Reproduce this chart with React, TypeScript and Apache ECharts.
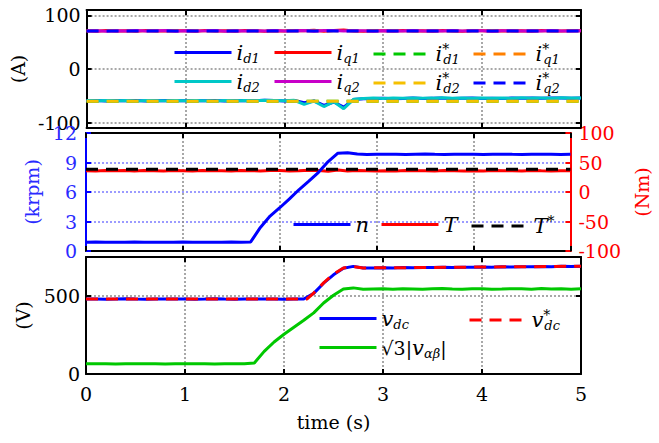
import React, { useEffect, useRef } from 'react';
import * as echarts from 'echarts';

const FONT = "'DejaVu Serif', 'Liberation Serif', serif";

// time axis (s)
const time = [0.0, 0.1, 0.2, 0.3, 0.4, 0.5, 0.6, 0.7, 0.8, 0.9,
  1.0, 1.1, 1.2, 1.3, 1.4, 1.5, 1.6, 1.7, 1.8, 1.9,
  2.0, 2.1, 2.2, 2.3, 2.4, 2.5, 2.6, 2.7, 2.8, 2.9,
  3.0, 3.1, 3.2, 3.3, 3.4, 3.5, 3.6, 3.7, 3.8, 3.9,
  4.0, 4.1, 4.2, 4.3, 4.4, 4.5, 4.6, 4.7, 4.8, 4.9, 5.0];
const refTime = [0, 5];

// top panel: currents (A)
const id1 = [-59.2, -58.6, -59.5, -58.9, -59.3, -58.7, -59.6, -59.0, -58.8, -59.4,
  -59.1, -58.5, -59.3, -58.9, -59.6, -59.0, -58.7, -59.2, -58.4, -58.9,
  -59.5, -58.6, -63.0, -59.5, -68.0, -61.5, -71.0, -57.0, -55.5, -55.0,
  -54.6, -55.3, -54.8, -54.2, -55.1, -54.7, -54.3, -55.0, -54.5, -54.1,
  -54.8, -54.4, -55.0, -54.2, -54.6, -54.0, -54.7, -54.3, -54.1, -54.5, -54.2];
const id2 = [-58.8, -59.4, -58.7, -59.2, -58.6, -59.5, -58.9, -59.3, -59.0, -58.5,
  -59.4, -58.8, -59.1, -59.6, -58.7, -59.2, -58.9, -59.4, -58.2, -58.6,
  -59.0, -58.3, -66.0, -60.0, -70.0, -61.0, -74.0, -56.5, -54.8, -54.2,
  -54.9, -54.1, -54.6, -53.9, -54.7, -54.3, -53.8, -54.5, -54.0, -54.6,
  -53.9, -54.4, -54.1, -54.7, -53.8, -54.3, -54.0, -54.5, -53.7, -54.2, -53.9];
const iq1 = [71.3, 70.6, 71.8, 70.9, 71.4, 70.5, 71.7, 71.0, 70.7, 71.5,
  71.2, 70.4, 71.6, 70.8, 71.3, 70.6, 71.9, 71.1, 70.5, 71.4,
  70.9, 71.7, 71.2, 72.3, 70.4, 71.8, 72.5, 71.0, 70.6, 71.5,
  71.1, 70.7, 71.6, 70.9, 71.3, 70.5, 71.8, 71.0, 70.6, 71.4,
  71.2, 70.8, 71.5, 70.9, 71.3, 70.6, 71.7, 71.0, 70.8, 71.4, 71.1];
const iq2 = [70.8, 71.5, 70.6, 71.3, 70.9, 71.7, 70.7, 71.2, 71.6, 70.5,
  71.4, 70.9, 71.1, 71.8, 70.6, 71.3, 70.8, 71.5, 71.0, 71.7,
  70.7, 71.2, 71.9, 70.5, 71.6, 72.0, 70.8, 71.4, 71.1, 70.6,
  71.5, 71.0, 70.8, 71.6, 70.7, 71.3, 71.0, 71.7, 70.9, 71.2,
  71.4, 70.6, 71.1, 71.5, 70.8, 71.3, 70.7, 71.6, 71.0, 70.9, 71.3];
const id1Ref = [-60, -60];
const iq1Ref = [71.5, 71.5];
const id2Ref = [-60, -60];
const iq2Ref = [71, 71];

// middle panel: speed (krpm) and torque (Nm)
const speed = [0.90, 0.91, 0.90, 0.89, 0.90, 0.91, 0.90, 0.90, 0.89, 0.90,
  0.91, 0.90, 0.90, 0.89, 0.90, 0.91, 0.90, 0.92, 2.40, 3.55,
  4.40, 5.30, 6.25, 7.10, 8.00, 9.10, 9.95, 10.00, 9.86, 9.82,
  9.84, 9.83, 9.85, 9.82, 9.84, 9.86, 9.83, 9.82, 9.85, 9.84,
  9.83, 9.82, 9.84, 9.85, 9.83, 9.82, 9.84, 9.83, 9.85, 9.82, 9.84];
const torque = [36.2, 35.6, 36.5, 35.9, 36.3, 35.7, 36.4, 36.0, 35.5, 36.3,
  36.1, 35.8, 36.6, 35.9, 36.2, 35.6, 36.4, 36.0, 35.7, 36.3,
  36.5, 35.8, 36.1, 37.0, 36.4, 35.2, 37.3, 35.4, 36.3, 36.0,
  35.6, 36.2, 35.8, 36.4, 35.9, 36.1, 35.7, 36.3, 36.0, 35.8,
  36.2, 35.6, 36.4, 35.9, 36.1, 35.7, 36.3, 36.0, 35.8, 36.2, 36.0];
const torqueRef = [38.5, 38.5];

// bottom panel: voltages (V)
const vdc = [480, 481, 479, 480, 482, 480, 479, 481, 480, 480,
  481, 479, 480, 482, 480, 479, 481, 480, 480, 481,
  479, 480, 481, 517, 582, 636, 678, 690, 679, 680,
  681, 680, 682, 681, 683, 682, 684, 683, 685, 684,
  686, 685, 687, 686, 688, 687, 689, 688, 690, 689, 691];
const vdcRefTime = [0, 2.23, 2.3, 2.4, 2.5, 2.6, 2.7, 2.8, 3.5, 4.0, 4.5, 5.0];
const vdcRef = [480, 480, 519, 584, 640, 680, 689, 680, 683, 686, 688, 691];
const vab = [65, 66, 65, 64, 65, 66, 65, 65, 64, 65,
  66, 65, 65, 64, 65, 66, 65, 70, 145, 205,
  255, 300, 345, 392, 455, 505, 545, 552, 543, 545,
  546, 544, 547, 545, 543, 546, 548, 545, 544, 547,
  546, 544, 545, 547, 546, 544, 548, 545, 546, 544, 547];

const yTopTicks = [-100, 0, 100];
const yBotTicks = [0, 500];

const pairs = (xs: number[], ys: number[]) => ys.map((y, i) => [xs[i], y]);

const GRAY_DOT = { color: '#8c8c8c', width: 1.5, type: [2, 2] as number[] };
const BLUE_DOT = { color: '#7b7bff', width: 1.5, type: [2, 2] as number[] };

const labelStyle = (color: string, margin: number) => ({
  show: true, color, fontFamily: FONT, fontSize: 19, margin,
});

const grids = [
  { left: 86, width: 495, top: 10, height: 118 },
  { left: 86, width: 495, top: 133, height: 118 },
  { left: 86, width: 495, top: 257, height: 117 },
];

function xAxes(gridIndex: number, showLabels: boolean) {
  const base = {
    type: 'value', gridIndex, min: 0, max: 5, interval: 1,
    axisLine: { show: true, onZero: false, lineStyle: { color: '#000', width: 2 } },
    axisTick: { show: true, inside: true, length: 5, lineStyle: { color: '#000', width: 2 } },
  };
  return [
    {
      ...base, position: 'bottom',
      axisLabel: showLabels ? labelStyle('#000', 10) : { show: false },
      splitLine: { show: true, lineStyle: GRAY_DOT },
      ...(showLabels ? {
        name: 'time (s)', nameLocation: 'middle', nameGap: 38,
        nameTextStyle: { fontFamily: FONT, fontSize: 19, color: '#000' },
      } : {}),
    },
    { ...base, position: 'top', axisLabel: { show: false }, splitLine: { show: false } },
  ];
}

const rich = {
  m: { fontFamily: FONT, fontStyle: 'italic', fontSize: 21, lineHeight: 24, color: '#000' },
  r: { fontFamily: FONT, fontSize: 19, lineHeight: 24, color: '#000' },
  sub: { fontFamily: FONT, fontStyle: 'italic', fontSize: 13, lineHeight: 10, verticalAlign: 'bottom', color: '#000' },
  sup: { fontFamily: FONT, fontSize: 14, lineHeight: 16, verticalAlign: 'top', width: 1, color: '#000' },
};

const labels: Record<string, string> = {
  id1: '{m|i}{sub|d1}',
  iq1: '{m|i}{sub|q1}',
  id1r: '{m|i}{sup|*}{sub|d1}',
  iq1r: '{m|i}{sup|*}{sub|q1}',
  id2: '{m|i}{sub|d2}',
  iq2: '{m|i}{sub|q2}',
  id2r: '{m|i}{sup|*}{sub|d2}',
  iq2r: '{m|i}{sup|*}{sub|q2}',
  n: '{m|n}',
  T: '{m|T}',
  Tr: '{m|T}{sup|*}',
  vdc: '{m|v}{sub|dc}',
  vdcr: '{m|v}{sup|*}{sub|dc}',
  vab: '{r|√3|}{m|v}{sub|αβ}{r||}',
};

const legendAt = (name: string, left: number, iconY: number, dashed: boolean) => ({
  data: [name], left, top: iconY - 12, padding: 0, itemGap: 0,
  itemWidth: 57, itemHeight: 14, selectedMode: false,
  formatter: (nm: string) => labels[nm],
  itemStyle: { opacity: 0, borderWidth: 0 },
  lineStyle: { width: 3, type: dashed ? [12, 8] : 'solid' },
  textStyle: { rich },
});

const line = (name: string, xs: number[], ys: number[], color: string, axis: number, yAxis: number, dashed = false, width = 3) => ({
  name, type: 'line', xAxisIndex: axis, yAxisIndex: yAxis,
  data: pairs(xs, ys), symbol: 'none', showSymbol: false,
  lineStyle: { color, width, type: dashed ? [12, 8] : 'solid' },
  itemStyle: { color },
});

export default function App() {
  const ref = useRef<HTMLDivElement>(null);
  useEffect(() => {
    const chart = echarts.init(ref.current!, null, { renderer: 'svg' });
    const option: any = {
      animation: false,
      backgroundColor: '#fff',
      textStyle: { fontFamily: FONT },
      grid: grids,
      xAxis: [...xAxes(0, false), ...xAxes(1, false), ...xAxes(2, true)],
      yAxis: [
        {
          type: 'value', gridIndex: 0, position: 'left', min: -110, max: 110,
          axisLine: { show: true, onZero: false, lineStyle: { color: '#000', width: 2 } },
          axisTick: { show: true, inside: true, length: 5, customValues: yTopTicks, lineStyle: { color: '#000', width: 2 } },
          axisLabel: { ...labelStyle('#000', 6), customValues: yTopTicks },
          splitLine: { show: true, lineStyle: GRAY_DOT },
          name: '(A)', nameLocation: 'middle', nameGap: 57,
          nameTextStyle: { fontFamily: FONT, fontSize: 19, color: '#000' },
        },
        {
          type: 'value', gridIndex: 0, position: 'right', min: -110, max: 110,
          axisLine: { show: true, onZero: false, lineStyle: { color: '#000', width: 2 } },
          axisTick: { show: true, inside: true, length: 5, customValues: yTopTicks, lineStyle: { color: '#000', width: 2 } },
          axisLabel: { show: false },
          splitLine: { show: false },
        },
        {
          type: 'value', gridIndex: 1, position: 'left', min: 0, max: 12, interval: 3,
          axisLine: { show: true, onZero: false, lineStyle: { color: '#0000ff', width: 2 } },
          axisTick: { show: true, inside: true, length: 5, lineStyle: { color: '#0000ff', width: 2 } },
          axisLabel: labelStyle('#2a2aff', 9),
          splitLine: { show: true, lineStyle: BLUE_DOT },
          name: '(krpm)', nameLocation: 'middle', nameGap: 40,
          nameTextStyle: { fontFamily: FONT, fontSize: 19, color: '#2a2aff' },
        },
        {
          type: 'value', gridIndex: 1, position: 'right', min: -100, max: 100, interval: 50,
          axisLine: { show: true, onZero: false, lineStyle: { color: '#ff0000', width: 2 } },
          axisTick: { show: true, inside: true, length: 5, lineStyle: { color: '#ff0000', width: 2 } },
          axisLabel: labelStyle('#ff0000', 8),
          splitLine: { show: false },
          name: '(Nm)', nameLocation: 'middle', nameGap: 58,
          nameTextStyle: { fontFamily: FONT, fontSize: 19, color: '#ff0000' },
        },
        {
          type: 'value', gridIndex: 2, position: 'left', min: 0, max: 750,
          axisLine: { show: true, onZero: false, lineStyle: { color: '#000', width: 2 } },
          axisTick: { show: true, inside: true, length: 5, customValues: yBotTicks, lineStyle: { color: '#000', width: 2 } },
          axisLabel: { ...labelStyle('#000', 6), customValues: yBotTicks },
          splitLine: { show: true, lineStyle: GRAY_DOT },
          name: '(V)', nameLocation: 'middle', nameGap: 52,
          nameTextStyle: { fontFamily: FONT, fontSize: 19, color: '#000' },
        },
        {
          type: 'value', gridIndex: 2, position: 'right', min: 0, max: 750,
          axisLine: { show: true, onZero: false, lineStyle: { color: '#000', width: 2 } },
          axisTick: { show: true, inside: true, length: 5, customValues: yBotTicks, lineStyle: { color: '#000', width: 2 } },
          axisLabel: { show: false },
          splitLine: { show: false },
        },
      ],
      legend: [
        legendAt('id1', 173, 54, false),
        legendAt('iq1', 273, 54, false),
        legendAt('id1r', 372, 54, true),
        legendAt('iq1r', 472, 54, true),
        legendAt('id2', 173, 83, false),
        legendAt('iq2', 273, 83, false),
        legendAt('id2r', 372, 83, true),
        legendAt('iq2r', 472, 83, true),
        legendAt('n', 292, 226, false),
        legendAt('T', 380, 226, false),
        legendAt('Tr', 470, 226, true),
        legendAt('vdc', 318, 320, false),
        legendAt('vdcr', 468, 320, true),
        legendAt('vab', 318, 349, false),
      ],
      series: [
        line('id1', time, id1, '#0000ff', 0, 0),
        line('iq1', time, iq1, '#ff0000', 0, 0),
        line('id1r', refTime, id1Ref, '#00c800', 0, 0, true),
        line('iq1r', refTime, iq1Ref, '#ff8000', 0, 0, true),
        line('id2', time, id2, '#00c8c8', 0, 0),
        line('iq2', time, iq2, '#c800c8', 0, 0),
        line('id2r', refTime, id2Ref, '#f5c000', 0, 0, true),
        line('iq2r', refTime, iq2Ref, '#0000ff', 0, 0, true),
        line('T', time, torque, '#ff0000', 2, 3),
        line('Tr', refTime, torqueRef, '#000000', 2, 3, true),
        line('n', time, speed, '#0000ff', 2, 2),
        line('vab', time, vab, '#00c800', 4, 4),
        line('vdc', time, vdc, '#0000ff', 4, 4),
        line('vdcr', vdcRefTime, vdcRef, '#ff0000', 4, 4, true),
      ],
    };
    chart.setOption(option);
    return () => chart.dispose();
  }, []);
  return (
    <div
      ref={ref}
      style={{ position: 'fixed', left: 0, top: 0, width: 659, height: 443, background: '#fff' }}
    />
  );
}
